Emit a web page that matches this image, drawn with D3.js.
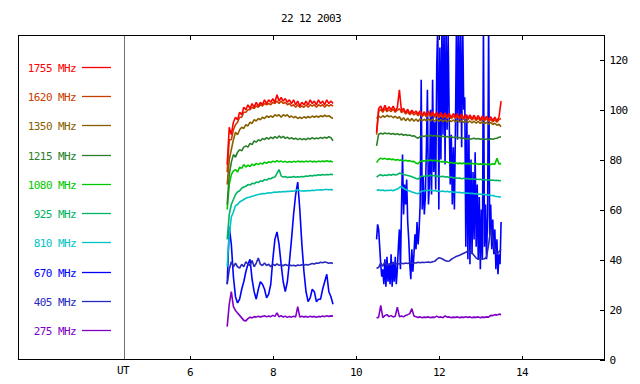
<!DOCTYPE html>
<html><head><meta charset="utf-8">
<script src="https://cdn.jsdelivr.net/npm/d3@7"></script>
<style>
body{margin:0;background:#fff}
svg{display:block}
text{font-family:"DejaVu Sans Mono",monospace;font-size:11px;letter-spacing:-0.6px;fill:#000}
</style>
</head><body><svg id="c" width="640" height="384"></svg>
<script>
// ---------- data ----------
const title = "22 12 2003";
const bandLabels = ["1755 MHz","1620 MHz","1350 MHz","1215 MHz","1080 MHz","925 MHz","810 MHz","670 MHz","405 MHz","275 MHz"];
const bandColors = ["#ff0000","#c84000","#886000","#2a802a","#00c800","#00b464","#00c4c4","#0000ff","#2828c0","#8000c8"];
const xTicks = [6,8,10,12,14];
const yTicks = [0,20,40,60,80,100,120];
const xLabel = "UT";
const seg1Start = 6.92, seg2Start = 10.52, stepH = 0.05, fineStepH = 0.025;

// first interval (6.92 - 9.47 UT)
const s1755a = [78,93,90,95,97,96,99,98,101,100,102,100.5,102.5,101,103,101.5,103,102,104,102.5,104,103,104.5,103,106,103.5,105,103.5,104.5,103,104,102.5,104,102,103.5,101.5,103,102,103.5,102,104,102.5,103.5,102,104,102.5,103.5,102,104,102.5,103.5,102.5];
const s1620a = [75,88,88,92,94,95,97,97,99,99,100,100,101,100.5,101.5,101,102,101.5,102.5,102,102.5,102,103,102.5,103.5,102.5,103.5,102.5,103,102,102.5,101.5,102,101,102,101,101.5,101,102,101,102,101.5,102,101,102,101.5,102,101,102,101.5,102,101.5];
const s1350a = [70,80,84,88,91,90,92,93,92.5,94,93.5,95,94.5,96,95.5,96.5,96,97,96.5,97.5,97,97.5,97,98,97.5,98,97,98,97.5,98,97,97.5,96.8,97.3,96.5,97,96.5,97.2,96.7,97.3,96.8,97.5,97,97.5,97,97.6,97.2,97.8,97.3,97.6,97,96.5];
const s1215a = [62,74,79,82,81,83,84,83.5,85,85.5,85,86.5,86,87.5,87,88,87.5,88.5,88,88.8,88.2,89,88.4,89.2,88.6,89.5,88.7,89.3,88.5,89,88.3,88.8,88.2,88.6,88,88.5,88,88.4,88,88.6,88.2,88.8,88.3,88.7,88.4,88.9,88.5,89,88.6,89.2,88.8,87.6];
const s1080a = [60,70,74,75.5,76,75,77,76.5,78,77,77.8,77.2,78.2,77.6,78.5,78,78.6,78.2,79,78.5,79.2,78.8,79.4,79,79.6,79.1,79.4,79,79.3,78.9,79.2,78.9,79.3,79,79.4,79.1,79.3,79,79.4,79.1,79.5,79.1,79.3,79,79.4,79.1,79.4,79.2,79.5,79.2,79.4,79];
const s925a  = [48,58,62,64,66,67,67.5,68.5,69,69.3,70,69.8,70.5,70.3,71,70.8,71.5,71.3,72,71.8,72.4,72.3,72.8,73,74.5,76,73.5,73,73.2,72.8,73,72.9,73.2,72.9,73.1,73,73.2,73.1,73.4,73.3,73.6,73.4,73.7,73.6,73.9,73.7,74,73.8,74,73.9,74.1,73.9];
const s810a  = [37,50,57,59,61.5,62,63,63.5,64,64.5,64.8,65,65.3,65.5,65.8,66,66.2,66.4,66.3,66.5,66.7,66.6,66.8,67,66.9,67.1,67,67.2,67.1,67.3,67.2,67.4,67.3,67.6,68,67.5,67.4,67.5,67.4,67.6,67.5,67.7,67.6,67.8,67.8,67.9,67.8,68,68,67.9,68,67.8];
const s670a  = [30,53,46,33,25,22.5,24,28,31,35,38,40,32,27,24,28,31,30,28,24.5,26,30,40,48,51,46,38,31,27,31,39,48,58,66,71,60,46,35,27,23,24.5,28,27,23,24,24,28,31,34,27,25,22];
const s405a  = [30,36,39,37,38.5,37,36.5,38,37,39,38,37.5,39.5,37,38.5,40.5,38,37.5,38.5,37.5,38,37,38,37.5,38.2,37.6,37.8,37.4,37.9,37.5,37.8,37.4,37.6,37.3,37.7,37.5,37.8,37.6,37.9,37.7,38,38.3,38.1,38.5,38.4,38.8,38.6,38.9,38.7,38.4,38.6,38.3];
const s275a  = [13,22,27,21,19.5,18.5,17.5,16.5,15.5,15.3,16.2,16.8,16.5,17,16.8,17.2,16.9,17.1,17.4,16.9,17.3,17,17.5,17.1,18.5,16.9,17.4,16.8,17.2,16.7,17.1,16.8,17.2,16.9,21,16.8,17.2,16.9,17.1,16.8,17.2,16.9,17.1,16.8,17.1,16.9,17.3,17,17.4,17.1,17.3,17.2];

// second interval (10.52 - 13.52 UT)
const s1755b = [91,100.5,101.5,99.5,101.8,99.8,101.2,100,101.5,99.6,100.8,108,99.4,100.6,98.8,100.2,98.5,99.8,98.6,99.5,98.2,99.6,97.8,99.2,97.6,99.5,97.8,99.3,97.5,99,97.3,98.9,97.2,98.7,97,98.6,96.9,98.5,97,98.4,96.8,98.2,96.6,98.1,96.5,97.9,96.4,97.8,96.2,97.7,96,97.5,96.1,97.4,95.8,97.2,95.6,97,95.5,97.1,103.5];
const s1620b = [90,99.5,100.2,99,100.5,99.2,100,99.3,100.3,99,99.8,100.5,98.8,99.6,98.3,99.2,98,98.9,97.9,98.6,97.6,98.5,97.3,98.3,97.1,98.4,97.3,98.2,97,98,96.8,97.9,96.7,97.7,96.5,97.6,96.4,97.5,96.5,97.4,96.3,97.2,96.1,97.1,96,96.9,95.9,96.8,95.7,96.7,95.5,96.5,95.6,96.4,95.3,96.2,95.1,96,95,96.1,96.5];
const s1350b = [96.5,97.5,96.8,97.6,97,97.8,97.2,97.5,96.8,97.4,96.6,97.2,95.8,96.8,95.6,96.6,95.5,96.5,95.4,96.3,95.3,96.4,95.5,96.2,95.6,96.4,95.5,96.3,95.4,96.2,95.3,96.1,95.2,96,95.1,95.9,95.2,96,95.1,95.8,95,95.7,94.9,95.6,94.8,95.5,94.7,95.4,94.6,95.3,94.5,95.2,94.4,95,94.2,94.9,94.1,94.6,93.8,94.2,93.2];
const s1215b = [85.5,90.2,90.6,90.3,90.7,90.4,90.6,90.2,90.5,90.1,90.4,90,90.3,89.8,90.1,89.7,89.9,89.4,89.6,89,88.6,89.2,89.5,89.3,89.7,89.4,89.8,89.5,89.7,89.4,89.6,89.2,89.4,89.1,89.3,89,89.2,88.9,89.1,88.8,88.9,88.5,88.7,88.3,88.5,88.2,88.4,88.6,88.3,88.5,88.2,88.4,88.1,88.3,88,88.4,88.2,88.5,88.6,89,89.2];
const s1080b = [78.8,80,80.6,80.2,80.5,80.1,80.3,80,80.2,79.8,80,79.7,79.9,79.5,79.7,79.4,79.6,79.2,79.3,78.6,78.4,79.2,79.6,79.4,79.7,79.5,79.8,79.6,79.7,79.4,79.5,79.1,79.2,79,79.1,78.7,78.9,78.5,78.7,78.4,78.6,78.4,78.6,78.3,78.5,78.3,78.5,78.2,78.4,78.1,78.3,78.1,78.3,78,78.2,78,78.3,78.1,80.5,78.3,78.4];
const s925b  = [73,73.6,73.9,73.5,73.8,73.6,74,73.7,74.1,73.8,74,74.6,74.3,74,73.8,73.6,73.4,73.1,72.8,72.4,72.2,73,73.4,73.2,73.6,73.4,73.7,73.5,73.6,73.3,73.4,73.1,73.3,73,73.1,72.8,73,72.6,72.8,72.5,72.6,72.3,72.5,72.3,72.4,72.1,72.3,72.1,72.2,72,72.1,71.9,72,71.8,71.9,71.7,71.8,71.6,71.7,71.5,71.6];
const s810b  = [67.6,67.9,67.6,67.8,67.5,67.7,67.6,67.8,67.5,67.9,68.2,68.8,69.2,68.5,68,67.6,67.4,67,66.8,66.5,66.3,67,67.4,67.5,67.7,67.6,67.8,67.5,67.6,67.3,67.4,67.2,67.4,67.1,67.3,67,67.2,66.9,67,66.8,66.9,66.6,66.8,66.5,66.6,66.4,66.5,66.3,66.4,66.1,66.2,66,66.1,65.8,65.9,65.6,65.6,65.3,65.2,65,65.1];
const s405b  = [36.3,36.8,38.5,37.2,39,37.5,38.2,37.8,38.6,38,38.3,38.1,38.4,38.2,38.5,38.3,38.6,38.4,38.6,38.5,38.8,38.6,38.8,38.7,38.8,38.9,38.7,39,39.2,40,40.6,40.4,40,39.5,39.2,39.3,40,40.5,41,41.3,41.6,42,42.4,42.8,43.2,43.6,42.5,41.5,40.5,40,40.5,40,40.2,41,46,52,48,44,42,43,44];
const s275b  = [16.5,16.8,21.5,16.6,17.4,17.8,17,17.4,16.9,17.2,20.8,17,17.3,16.9,17.5,17.8,18.2,20.2,17.3,17,16.7,16.9,16.6,16.8,16.7,16.9,16.6,16.8,16.7,17.2,16.7,16.9,16.6,17.3,16.8,16.9,16.6,16.8,16.7,16.9,16.6,16.8,16.7,17,16.7,16.9,16.6,16.8,16.7,16.9,16.6,16.8,16.7,16.9,16.8,17.5,17.4,17.8,17.6,18,17.8];
// 670 MHz second interval sampled at the finer step
const s670b  = [48,54,52,45,38,33,36,30,40,29,41,31,38,30,42,29,39,31,41,30,36,45,52,36,60,82,58,70,62,72,55,48,38,32,44,35,42,50,44,55,46,52,62,112,60,73,58,65,84,108,62,70,100,66,112,75,95,68,118,135,60,125,80,135,90,135,78,135,92,130,96,70,90,62,85,60,92,135,88,135,95,130,85,135,100,105,45,98,40,90,38,80,42,75,48,83,45,70,40,65,36,60,40,135,45,62,40,58,135,50,62,44,56,42,52,36,48,34,42,38,55];

// ---------- chart ----------
const svg = d3.select("#c");
const L = 18, R = 604, T = 35, B = 359;
const x = d3.scaleLinear().domain([6,16]).range([189,604]);
const y = d3.scaleLinear().domain([0,130]).range([B,T]);

svg.append("text").attr("x",311).attr("y",22).attr("text-anchor","middle").text(title);

svg.append("clipPath").attr("id","plotClip").append("rect")
  .attr("x",L).attr("y",T).attr("width",R-L).attr("height",B-T);

// divider
svg.append("line").attr("x1",124.5).attr("x2",124.5).attr("y1",T).attr("y2",B)
  .attr("stroke","#707070").attr("stroke-width",1).attr("shape-rendering","crispEdges");

const seriesMap = {
  "1755 MHz":[s1755a,s1755b,stepH], "1620 MHz":[s1620a,s1620b,stepH], "1350 MHz":[s1350a,s1350b,stepH],
  "1215 MHz":[s1215a,s1215b,stepH], "1080 MHz":[s1080a,s1080b,stepH], "925 MHz":[s925a,s925b,stepH],
  "810 MHz":[s810a,s810b,stepH], "670 MHz":[s670a,s670b,fineStepH], "405 MHz":[s405a,s405b,stepH],
  "275 MHz":[s275a,s275b,stepH]
};
const drawOrder = ["670 MHz","405 MHz","275 MHz","810 MHz","925 MHz","1080 MHz","1215 MHz","1350 MHz","1620 MHz","1755 MHz"];
const colorOf = d3.scaleOrdinal().domain(bandLabels).range(bandColors);

const line = d3.line().x(d=>x(d[0])).y(d=>y(d[1]));
const gData = svg.append("g").attr("clip-path","url(#plotClip)");
drawOrder.forEach(lbl=>{
  const [a,b,st2] = seriesMap[lbl];
  const p1 = a.map((v,i)=>[seg1Start+i*stepH, v]);
  const p2 = b.map((v,i)=>[seg2Start+i*st2, v]);
  [p1,p2].forEach(p=>{
    gData.append("path").attr("d",line(p)).attr("fill","none")
      .attr("stroke",colorOf(lbl)).attr("stroke-width",1.6).attr("stroke-linejoin","bevel");
  });
});

// legend
const ly = d3.scalePoint().domain(bandLabels).range([67,330]);
const lg = svg.append("g");
bandLabels.forEach(lbl=>{
  const yy = Math.round(ly(lbl))+0.5;
  lg.append("line").attr("x1",82).attr("x2",111).attr("y1",yy).attr("y2",yy)
    .attr("stroke",colorOf(lbl)).attr("stroke-width",1.3);
  lg.append("text").attr("x",76).attr("y",yy+4.5).attr("text-anchor","end")
    .style("fill",colorOf(lbl)).text(lbl);
});

// frame
svg.append("rect").attr("x",L+0.5).attr("y",T+0.5).attr("width",R-L).attr("height",B-T)
  .attr("fill","none").attr("stroke","#000").attr("stroke-width",1).attr("shape-rendering","crispEdges");

// axes
const axB = svg.append("g").attr("transform",`translate(0.5,${B+0.5})`)
  .call(d3.axisBottom(x).tickValues(xTicks).tickSize(-4).tickPadding(9).tickFormat(d3.format("d")));
const axT = svg.append("g").attr("transform",`translate(0.5,${T+0.5})`)
  .call(d3.axisTop(x).tickValues(xTicks).tickSize(-4).tickFormat(""));
const axR = svg.append("g").attr("transform",`translate(${R+0.5},0.5)`)
  .call(d3.axisRight(y).tickValues(yTicks).tickSize(-5).tickPadding(5).tickFormat(d3.format("d")));
[axB,axT,axR].forEach(g=>{
  g.select(".domain").remove();
  g.selectAll("line").attr("stroke","#000").attr("shape-rendering","crispEdges");
  g.selectAll("text").attr("font-family",null).attr("font-size",null).style("fill","#000");
});
svg.append("text").attr("x",123).attr("y",374).attr("text-anchor","middle").text(xLabel);
</script>
</body></html>
